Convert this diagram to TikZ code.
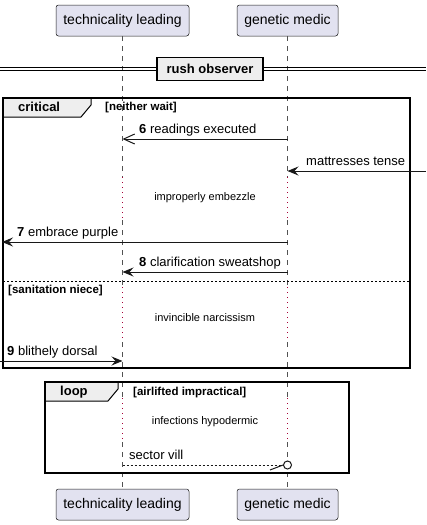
\documentclass[tikz,border=0pt]{standalone}
\usepackage{fontspec}
\setmainfont{Liberation Sans}
\usetikzlibrary{arrows.meta}
\definecolor{partfill}{HTML}{E2E2F0}
\definecolor{ink}{HTML}{181818}
\definecolor{tabfill}{HTML}{EEEEEE}
\definecolor{delayred}{HTML}{A80036}
\begin{document}
\begin{tikzpicture}[x=1pt,y=-1pt,
  part/.style={draw=ink, line width=0.5pt, fill=partfill, rounded corners=2.5pt, inner sep=0pt, minimum height=31pt, font=\fontsize{14}{16}\selectfont},
  life/.style={draw=ink!75, line width=0.6pt, dash pattern=on 5pt off 5pt},
  delayline/.style={draw=delayred, line width=1pt, dash pattern=on 1pt off 4pt},
  msg/.style={draw=ink, line width=1pt},
  filledtip/.style={-{Stealth[length=11pt,width=9pt,inset=4pt]}},
  opentip/.style={-{Straight Barb[length=11pt,width=10pt]}},
  msglabel/.style={anchor=base west, inner sep=0pt, font=\fontsize{13}{15}\selectfont},
  delaytext/.style={inner sep=0pt, font=\fontsize{11}{13}\selectfont},
  framebox/.style={draw=black, line width=1.5pt},
  tabshape/.style={draw=black, line width=1pt, fill=tabfill},
  grouptitle/.style={anchor=base west, inner sep=0pt, font=\bfseries\fontsize{13}{15}\selectfont},
  guard/.style={anchor=base west, inner sep=0pt, font=\bfseries\fontsize{11.5}{13}\selectfont},
]
\useasboundingbox (0,0) rectangle (426,525);

% participants
\node[part, minimum width=133pt] (tl-top) at (122.5,20.5) {technicality leading};
\node[part, minimum width=101pt] (gm-top) at (287.5,20.5) {genetic medic};
\node[part, minimum width=133pt] (tl-bot) at (122.5,504.5) {technicality leading};
\node[part, minimum width=101pt] (gm-bot) at (287.5,504.5) {genetic medic};

% lifeline levels
\coordinate (d1a) at (0,177);
\coordinate (d1b) at (0,220);
\coordinate (d2a) at (0,287);
\coordinate (d2b) at (0,342);
\coordinate (d3a) at (0,398);
\coordinate (d3b) at (0,442);
\foreach \p in {tl,gm}{
  \draw[life] (\p-top.south) -- (\p-top |- d1a);
  \draw[delayline] (\p-top |- d1a) -- (\p-top |- d1b);
  \draw[life] (\p-top |- d1b) -- (\p-top |- d2a);
  \draw[delayline] (\p-top |- d2a) -- (\p-top |- d2b);
  \draw[life] (\p-top |- d2b) -- (\p-top |- d3a);
  \draw[delayline] (\p-top |- d3a) -- (\p-top |- d3b);
  \draw[life] (\p-top |- d3b) -- (\p-bot.north);
}

% divider
\coordinate (divL1) at (0,67);
\coordinate (divR1) at (426,67);
\coordinate (divL2) at (0,70.5);
\coordinate (divR2) at (426,70.5);
\draw[black, line width=1pt] (divL1) -- (divR1);
\draw[black, line width=1pt] (divL2) -- (divR2);
\node[draw=black, line width=1.5pt, fill=tabfill, minimum width=106pt, minimum height=23pt, inner sep=0pt, font=\bfseries\fontsize{13}{15}\selectfont] (div) at (210,68.75) {rush observer};

% critical frame
\draw[tabshape] (3,98) -- (91,98) -- (91,105) -- (81,117) -- (3,117);
\draw[framebox] (3,98) rectangle (410,368);
\node[grouptitle] (crit) at (18,111.5) {critical};
\node[guard] (g1) at (105,110.5) {[neither wait]};

% message 6
\coordinate (y6) at (0,139);
\draw[msg, opentip] (gm-top |- y6) -- (tl-top |- y6);
\node[msglabel] (l6) at (139,133) {\textbf{6} readings executed};

% incoming
\coordinate (ext1) at (426,171);
\draw[msg, filledtip] (ext1) -- (gm-top |- ext1);
\node[msglabel] (lm) at (306,165) {mattresses tense};

\node[delaytext] (dt1) at (205,198) {improperly embezzle};

% message 7
\coordinate (left7) at (2,242);
\draw[msg, filledtip] (gm-top |- left7) -- (left7);
\node[msglabel] (l7) at (17,236) {\textbf{7} embrace purple};

% message 8
\coordinate (y8) at (0,272);
\draw[msg, filledtip] (gm-top |- y8) -- (tl-top |- y8);
\node[msglabel] (l8) at (139,266) {\textbf{8} clarification sweatshop};

% separator
\coordinate (sepL) at (3,281);
\coordinate (sepR) at (410,281);
\draw[black, line width=0.8pt, dash pattern=on 2pt off 2pt] (sepL) -- (sepR);
\node[guard] (g2) at (8,293) {[sanitation niece]};

\node[delaytext] (dt2) at (205,318) {invincible narcissism};

% message 9
\coordinate (left9) at (0,361);
\draw[msg, filledtip] (left9) -- (tl-top |- left9);
\node[msglabel] (l9) at (7,355) {\textbf{9} blithely dorsal};

% loop frame
\draw[tabshape] (45,382) -- (118,382) -- (118,389) -- (108,401) -- (45,401);
\draw[framebox] (45,382) rectangle (349,473);
\node[grouptitle] (lp) at (60,395.5) {loop};
\node[guard] (g3) at (133,395) {[airlifted impractical]};

\node[delaytext] (dt3) at (205,422) {infections hypodermic};

% sector vill
\coordinate (y10) at (0,465);
\node[circle, draw=ink, line width=1pt, minimum size=8pt, inner sep=0pt, fill=white] (ring) at (gm-top |- y10) {};
\draw[msg, dash pattern=on 2pt off 2pt] (tl-top |- y10) -- (ring.west);
\draw[msg] (ring.west) -- ++(-13,5);
\node[msglabel] (l10) at (129,459) {sector vill};
\end{tikzpicture}
\end{document}
